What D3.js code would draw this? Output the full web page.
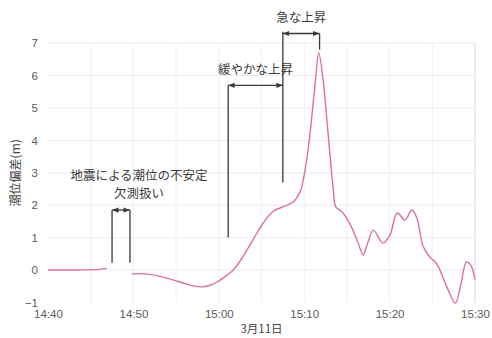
<!DOCTYPE html>
<html><head><meta charset="utf-8">
<script src="https://cdn.jsdelivr.net/npm/d3@7"></script>
<style>
html,body{margin:0;padding:0;background:#fff;}
svg{display:block;font-family:"Noto Sans CJK JP","Noto Sans",sans-serif;}
</style></head>
<body><svg id="c" width="492" height="338"></svg>
<script>
// Data (time as HH:MM:SS on 3月11日, value = 潮位偏差 m)
const seg1Times = ["14:40:00","14:43:00","14:46:00","14:46:54"];
const seg1Values = [0.0, 0.0, 0.02, 0.05];
const seg2Times = ["14:49:48","14:51:30","14:53:54","14:55:48","14:57:48","14:59:00","14:59:48","15:01:00","15:01:42","15:02:48","15:04:00","15:05:12","15:06:18","15:07:30","15:08:42","15:09:30","15:09:54","15:10:24","15:10:48","15:11:18","15:11:42","15:12:12","15:12:48","15:13:24","15:13:42","15:14:24","15:15:24","15:16:18","15:16:54","15:17:24","15:18:06","15:19:12","15:20:00","15:20:54","15:21:48","15:22:36","15:23:12","15:23:54","15:24:42","15:25:30","15:26:42","15:27:42","15:28:18","15:29:00","15:29:30","15:30:00"];
const seg2Values = [-0.12,-0.12,-0.25,-0.4,-0.52,-0.47,-0.37,-0.15,0.0,0.4,0.93,1.45,1.8,1.95,2.1,2.4,2.8,3.6,4.5,5.8,6.7,5.9,4.2,2.5,1.95,1.8,1.4,0.85,0.46,0.8,1.23,0.83,1.05,1.76,1.54,1.85,1.6,0.75,0.4,0.2,-0.52,-1.02,-0.5,0.25,0.15,-0.3];
const xTickLabels = ["14:40","14:50","15:00","15:10","15:20","15:30"];
const yTickValues = [-1,0,1,2,3,4,5,6,7];
const yLabel = "潮位偏差(m)";
const xLabel = "3月11日";
// Annotation brackets: [startTime, endTime], values
const gapBracketTimes = ["14:47:30","14:49:36"];
const gapBracketValues = [1.85, 0.22, 0.22]; // top, leftBottom, rightBottom
const gapLabels = ["地震による潮位の不安定","欠測扱い"];
const slowBracketTimes = ["15:01:06","15:07:30"];
const slowBracketValues = [5.7, 1.0]; // arrow level, left bottom
const slowLabel = "緩やかな上昇";
const dividerValues = [7.35, 2.7]; // shared vertical line top/bottom
const fastBracketTimes = ["15:07:30","15:11:48"];
const fastBracketValues = [7.3, 6.8];
const fastLabel = "急な上昇";

const parse = d3.timeParse("%H:%M:%S");
const parseHM = d3.timeParse("%H:%M");
const svg = d3.select("#c");
const m = {l:48, r:17, t:43, b:36};
const W = 492, H = 338;
const x = d3.scaleTime().domain([parseHM("14:40"), parseHM("15:30")]).range([m.l, W - m.r]);
const y = d3.scaleLinear().domain([-1, 7]).range([302.4, 43.2]);

// grid
const g = svg.append("g");
g.selectAll("line.h").data(yTickValues.filter(v => v > -1)).join("line")
  .attr("x1", m.l).attr("x2", W - m.r).attr("y1", d => y(d)).attr("y2", d => y(d))
  .attr("stroke", "#ececec").attr("stroke-width", 1);
const vt = d3.timeMinute.every(5).range(parseHM("14:45"), parseHM("15:30"));
g.selectAll("line.v").data(vt).join("line")
  .attr("x1", d => x(d)).attr("x2", d => x(d)).attr("y1", y(7)).attr("y2", y(-1))
  .attr("stroke", "#f1f1f1").attr("stroke-width", 1);
g.append("line").attr("x1", x(parseHM("15:30"))).attr("x2", x(parseHM("15:30")))
  .attr("y1", y(7)).attr("y2", y(-1)).attr("stroke", "#dcdcdc");

// axes (labels only)
const xAxis = d3.axisBottom(x).tickValues(xTickLabels.map(parseHM)).tickFormat(d3.timeFormat("%H:%M")).tickSize(0).tickPadding(0);
const xa = svg.append("g").attr("transform", `translate(0,${y(-1) + 7})`).call(xAxis);
xa.select(".domain").remove();
xa.selectAll("text").attr("font-size", 11.5).attr("fill", "#5a5a5a").attr("font-family", "Liberation Sans, Arial, sans-serif");
const yAxis = d3.axisLeft(y).tickValues(yTickValues).tickFormat(d3.format("d")).tickSize(0).tickPadding(0);
const ya = svg.append("g").attr("transform", `translate(${m.l - 10},0)`).call(yAxis);
ya.select(".domain").remove();
ya.selectAll("text").attr("font-size", 11.5).attr("fill", "#5a5a5a").attr("font-family", "Liberation Sans, Arial, sans-serif");

svg.append("text").attr("x", (x.range()[0] + x.range()[1]) / 2).attr("y", 333)
  .attr("text-anchor", "middle").attr("font-size", 11.5).attr("fill", "#444").text(xLabel);
svg.append("text").attr("transform", `translate(17,${(y(7) + y(-1)) / 2}) rotate(-90)`)
  .attr("text-anchor", "middle").attr("dominant-baseline", "middle")
  .attr("font-size", 12).attr("fill", "#444").text(yLabel);

// line
const line = d3.line().x(d => x(d[0])).y(d => y(d[1])).curve(d3.curveCatmullRom.alpha(0.5));
const s1 = seg1Times.map((t, i) => [parse(t), seg1Values[i]]);
const s2 = seg2Times.map((t, i) => [parse(t), seg2Values[i]]);
[s1, s2].forEach(s => svg.append("path").datum(s).attr("d", line)
  .attr("fill", "none").attr("stroke", "#dc7394").attr("stroke-width", 1.4));

// markers
const defs = svg.append("defs");
defs.append("marker").attr("id", "ah").attr("viewBox", "0 0 10 10").attr("refX", 10).attr("refY", 5)
  .attr("markerWidth", 5).attr("markerHeight", 5).attr("orient", "auto-start-reverse")
  .append("path").attr("d", "M0,1L10,5L0,9z").attr("fill", "#3a3a3a");

const ink = "#3a3a3a";
function ln(x1, y1, x2, y2, ms, me) {
  const l = svg.append("line").attr("x1", x1).attr("y1", y1).attr("x2", x2).attr("y2", y2)
    .attr("stroke", ink).attr("stroke-width", 1.3);
  if (ms) l.attr("marker-start", "url(#ah)");
  if (me) l.attr("marker-end", "url(#ah)");
}
// gap bracket
{
  const xa1 = x(parse(gapBracketTimes[0])), xa2 = x(parse(gapBracketTimes[1]));
  const yt = y(gapBracketValues[0]);
  ln(xa1, yt, xa1, y(gapBracketValues[1]));
  ln(xa2, yt, xa2, y(gapBracketValues[2]));
  ln(xa1, yt, xa2, yt, true, true);
  const cx = (xa1 + xa2) / 2 + 18;
  svg.append("text").attr("x", cx).attr("y", yt - 30).attr("text-anchor", "middle")
    .attr("font-size", 12.5).attr("fill", "#3a3a3a").text(gapLabels[0]);
  svg.append("text").attr("x", cx).attr("y", yt - 12).attr("text-anchor", "middle")
    .attr("font-size", 12.5).attr("fill", "#3a3a3a").text(gapLabels[1]);
}
// slow / fast brackets
{
  const xs1 = x(parse(slowBracketTimes[0])), xs2 = x(parse(slowBracketTimes[1]));
  const ys = y(slowBracketValues[0]);
  ln(xs1, ys, xs1, y(slowBracketValues[1]));
  ln(xs2, y(dividerValues[0]), xs2, y(dividerValues[1]));
  ln(xs1, ys, xs2, ys, true, true);
  svg.append("text").attr("x", (xs1 + xs2) / 2).attr("y", ys - 11).attr("text-anchor", "middle")
    .attr("font-size", 12.5).attr("fill", "#3a3a3a").text(slowLabel);
  const xf1 = x(parse(fastBracketTimes[0])), xf2 = x(parse(fastBracketTimes[1]));
  const yf = y(fastBracketValues[0]);
  ln(xf2, yf, xf2, y(fastBracketValues[1]));
  ln(xf1, yf, xf2, yf, true, true);
  svg.append("text").attr("x", (xf1 + xf2) / 2).attr("y", yf - 11).attr("text-anchor", "middle")
    .attr("font-size", 12.5).attr("fill", "#3a3a3a").text(fastLabel);
}
</script></body></html>
